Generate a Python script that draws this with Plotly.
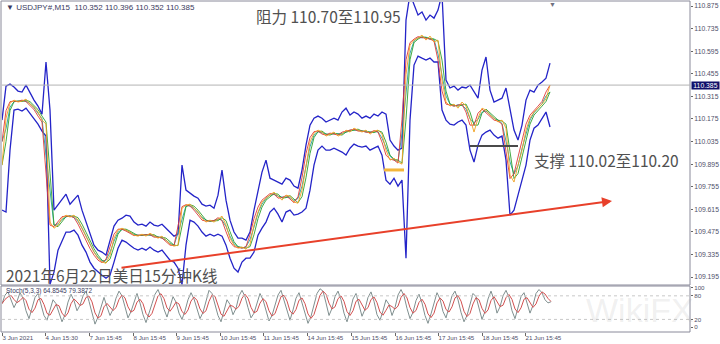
import numpy as np
import pandas as pd
import plotly.graph_objects as go

# ---------------- data ----------------
close = [109.889, 110.180, 110.273, 110.292, 110.280, 110.286, 110.298, 110.267, 110.249, 110.218,
         110.168, 110.143, 109.536, 109.498, 109.517, 109.560, 109.579, 109.567, 109.579, 109.548,
         109.498, 109.449, 109.393, 109.350, 109.312, 109.288, 109.281, 109.331, 109.436, 109.486,
         109.498, 109.486, 109.474, 109.455, 109.449, 109.461, 109.449, 109.467, 109.449, 109.436,
         109.449, 109.424, 109.399, 109.387, 109.393, 109.622, 109.641, 109.647, 109.622, 109.598,
         109.560, 109.536, 109.548, 109.536, 109.554, 109.573, 109.517, 109.436, 109.393, 109.374,
         109.381, 109.368, 109.399, 109.517, 109.598, 109.660, 109.684, 109.703, 109.722, 109.697,
         109.672, 109.703, 109.697, 109.660, 109.653, 109.734, 109.889, 110.032, 110.087, 110.106,
         110.094, 110.069, 110.081, 110.094, 110.069, 110.081, 110.106, 110.094, 110.118, 110.106,
         110.094, 110.106, 110.081, 110.100, 110.106, 110.081, 109.982, 109.920, 109.932, 109.908,
         109.895, 110.450, 110.633, 110.664, 110.676, 110.695, 110.664, 110.689, 110.652, 110.664,
         110.416, 110.280, 110.255, 110.267, 110.242, 110.280, 110.255, 110.180, 110.094, 110.180,
         110.242, 110.230, 110.199, 110.180, 110.156, 110.168, 110.118, 109.827, 109.784, 109.889,
         109.982, 110.106, 110.180, 110.218, 110.242, 110.267, 110.300, 110.385]

upper = [110.168, 110.379, 110.391, 110.373, 110.348, 110.342, 110.385, 110.335, 110.292, 110.255,
         110.205, 110.528, 110.230, 109.610, 109.641, 109.672, 109.709, 109.647, 109.678, 109.703,
         109.610, 109.536, 109.474, 109.393, 109.362, 109.350, 109.331, 109.424, 109.511, 109.548,
         109.560, 109.579, 109.573, 109.536, 109.517, 109.523, 109.511, 109.536, 109.517, 109.511,
         109.523, 109.498, 109.474, 109.449, 109.461, 109.889, 109.734, 109.715, 109.697, 109.684,
         109.647, 109.635, 109.641, 109.622, 109.703, 109.858, 109.672, 109.548, 109.474, 109.436,
         109.436, 109.424, 109.474, 109.610, 109.734, 109.846, 109.920, 109.808, 109.796, 109.784,
         109.771, 109.808, 109.796, 109.759, 109.746, 109.858, 110.013, 110.137, 110.180, 110.193,
         110.180, 110.156, 110.168, 110.180, 110.168, 110.218, 110.242, 110.199, 110.218, 110.205,
         110.180, 110.193, 110.180, 110.205, 110.193, 110.218, 110.205, 110.044, 110.007, 109.982,
         109.994, 110.788, 110.950, 110.881, 110.819, 110.838, 110.788, 110.819, 110.800, 110.850,
         110.950, 110.416, 110.367, 110.379, 110.354, 110.373, 110.367, 110.385, 110.342, 110.304,
         110.478, 110.559, 110.354, 110.280, 110.292, 110.304, 110.367, 110.230, 110.106, 110.044,
         110.137, 110.292, 110.354, 110.342, 110.385, 110.404, 110.428, 110.521]

lower = [109.610, 109.598, 109.982, 110.230, 110.236, 110.224, 110.242, 110.211, 110.180, 110.143,
         110.100, 110.069, 109.150, 109.226, 109.362, 109.424, 109.474, 109.474, 109.486, 109.455,
         109.393, 109.350, 109.288, 109.250, 109.226, 109.207, 109.188, 109.207, 109.288, 109.374,
         109.424, 109.412, 109.393, 109.374, 109.362, 109.374, 109.362, 109.381, 109.362, 109.350,
         109.362, 109.331, 109.300, 109.288, 109.250, 109.150, 109.393, 109.548, 109.536, 109.511,
         109.474, 109.449, 109.461, 109.449, 109.461, 109.449, 109.393, 109.312, 109.250, 109.226,
         109.288, 109.312, 109.312, 109.350, 109.455, 109.498, 109.536, 109.598, 109.622, 109.585,
         109.536, 109.598, 109.610, 109.579, 109.585, 109.598, 109.622, 109.734, 109.889, 109.982,
         110.007, 109.982, 109.982, 109.994, 109.982, 109.970, 109.951, 109.994, 110.019, 110.007,
         110.001, 110.007, 109.982, 109.994, 110.007, 109.951, 109.796, 109.771, 109.808, 109.759,
         109.796, 109.312, 110.168, 110.509, 110.565, 110.552, 110.540, 110.552, 110.528, 110.528,
         110.230, 110.168, 110.143, 110.137, 110.156, 110.168, 110.137, 109.982, 109.908, 110.013,
         110.075, 110.094, 110.106, 110.075, 110.056, 110.069, 109.920, 109.579, 109.610, 109.703,
         109.796, 109.889, 110.044, 110.118, 110.137, 110.180, 110.218, 110.125]

stoch_main = [60, 82, 90, 72, 50, 66, 88, 74, 42, 22, 48, 76, 86, 58, 30, 18, 44, 70, 60, 34,
              14, 32, 64, 84, 68, 42, 56, 80, 92, 66, 36, 8, 26, 54, 76, 52, 30, 46, 74, 92,
              80, 52, 24, 40, 66, 86, 62, 32, 12, 34, 60, 84, 96, 76, 46, 26, 50, 78, 64, 36,
              20, 42, 70, 88, 72, 46, 22, 38, 66, 94, 86, 56, 30, 14, 40, 70, 58, 32, 48, 80,
              94, 78, 50, 24, 36, 62, 86, 70, 40, 16, 30, 58, 82, 94, 68, 38, 18, 44, 74, 88,
              62, 30, 10, 28, 60, 86, 98, 92, 62, 30, 48, 78, 92, 70, 36, 14, 40, 72, 86, 56,
              28, 46, 76, 90, 66, 32, 18, 42, 70, 58, 30, 50, 82, 96, 80, 48, 22, 38, 68, 84,
              62, 30, 10, 34, 64, 88, 72, 40, 24, 52, 80, 92, 70, 38, 14, 30, 62, 86, 78, 46,
              20, 40, 72, 92, 70, 36, 52, 80, 94, 76, 42, 22, 48, 78, 88, 60, 36, 56, 86, 96,
              88, 70, 62, 65]

tick_pos = [0, 10.75, 21.75, 32.75, 43.5, 54.5, 65.25, 76.25, 87.25, 98.25, 109, 120, 130.75]
tick_text = ["3 Jun 2021", "4 Jun 15:30", "7 Jun 15:45", "8 Jun 15:45", "9 Jun 15:45",
             "10 Jun 15:45", "11 Jun 15:45", "14 Jun 15:45", "15 Jun 15:45", "16 Jun 15:45",
             "17 Jun 15:45", "18 Jun 15:45", "21 Jun 15:45"]
price_ticks = [110.875, 110.735, 110.595, 110.455, 110.315, 110.175, 110.035,
               109.895, 109.755, 109.615, 109.475, 109.335, 109.195]
stoch_ticks = [0, 20, 80, 100]
last_price = 110.385
trend_x = [29.5, 152.5]
trend_price = [109.252, 109.667]
support_x = [117, 129]
support_price = 110.008
mark_x = [95.5, 100.5]
mark_price = 109.859

header = "▼ USDJPY#,M15  110.352 110.396 110.352 110.385"
stoch_label = "Stoch(5,3,3) 64.8545 79.3872"
txt_resist = "阻力 110.70至110.95"
txt_support = "支撑 110.02至110.20"
txt_title = "2021年6月22日美日15分钟K线"

# ---------------- figure ----------------
x = np.arange(len(close))
s = pd.Series(close)
fig = go.Figure()

band_col = "#2424c8"
fig.add_trace(go.Scatter(x=x, y=upper, mode="lines", line=dict(color=band_col, width=1.3), hoverinfo="skip"))
fig.add_trace(go.Scatter(x=x, y=lower, mode="lines", line=dict(color=band_col, width=1.3), hoverinfo="skip"))

inner = [
    (s.rolling(3, center=True, min_periods=1).mean(), "#1f9f9f"),
    (s.rolling(2, min_periods=1).mean(), "#2ea02e"),
    (s.rolling(2, min_periods=1).mean().shift(-1).fillna(s), "#e03a3a"),
    (s, "#f0a020"),
]
for ser, col in inner:
    fig.add_trace(go.Scatter(x=x, y=ser, mode="lines", line=dict(color=col, width=0.9), hoverinfo="skip"))

xs = np.arange(len(stoch_main)) * 0.75
sm = pd.Series(stoch_main)
fig.add_trace(go.Scatter(x=xs, y=sm, mode="lines", line=dict(color="#7f8f8f", width=1),
                         yaxis="y2", hoverinfo="skip"))
fig.add_trace(go.Scatter(x=xs, y=sm.rolling(3, min_periods=1).mean(), mode="lines",
                         line=dict(color="#d25050", width=1), yaxis="y2", hoverinfo="skip"))

W, H = 720, 344
xd = [2 / W, 690 / W]
main_dom = [1 - 285 / H, 1 - 2 / H]
sub_dom = [1 - 332 / H, 1 - 286 / H]
ytick_font = dict(family="Liberation Sans, Arial", size=6.8, color="#50506a")
xtick_font = dict(family="Liberation Sans, Arial", size=6.2, color="#50506a")
stoch_font = dict(family="Liberation Sans, Arial", size=6.2, color="#50506a")

fig.update_layout(
    width=W, height=H, margin=dict(l=0, r=0, t=0, b=0, autoexpand=False),
    paper_bgcolor="white", plot_bgcolor="white", showlegend=False,
    xaxis=dict(domain=xd, range=[0, 172], anchor="y2", tickvals=tick_pos, ticktext=tick_text,
               ticklabelposition="outside right", tickangle=0, ticks="outside", ticklen=3,
               tickcolor="#666", tickfont=xtick_font, showgrid=False, zeroline=False,
               showline=False, automargin=False),
    yaxis=dict(domain=main_dom, range=[109.146, 110.900], side="right", anchor="x",
               tickvals=price_ticks, ticktext=[f"{v:.3f}" for v in price_ticks],
               ticks="outside", ticklen=2, tickcolor="#666", tickfont=ytick_font,
               ticklabelstandoff=0, showgrid=False, zeroline=False, automargin=False),
    yaxis2=dict(domain=sub_dom, range=[-12, 105], side="right", anchor="x",
                tickvals=stoch_ticks, ticktext=[str(v) for v in stoch_ticks],
                ticks="outside", ticklen=2, tickcolor="#666", tickfont=stoch_font,
                ticklabelstandoff=0, showgrid=False, zeroline=False, automargin=False),
)

shapes = []
shapes.append(dict(type="rect", xref="paper", yref="paper", x0=1 / W, x1=xd[1], y0=main_dom[0], y1=1 - 1 / H,
                   line=dict(color="#8a8a9a", width=1)))
shapes.append(dict(type="rect", xref="paper", yref="paper", x0=1 / W, x1=xd[1], y0=sub_dom[0], y1=sub_dom[1],
                   line=dict(color="#8a8a9a", width=1)))
shapes.append(dict(type="line", xref="x", yref="y", x0=0, x1=172, y0=last_price, y1=last_price,
                   line=dict(color="#b4b4b4", width=1)))
for lv in (20, 80):
    shapes.append(dict(type="line", xref="x", yref="y2", x0=0, x1=172, y0=lv, y1=lv,
                       line=dict(color="#c8c8c8", width=1, dash="dot")))
shapes.append(dict(type="line", xref="x", yref="y", x0=support_x[0], x1=support_x[1],
                   y0=support_price, y1=support_price, line=dict(color="#4a4a4a", width=2)))
shapes.append(dict(type="line", xref="x", yref="y", x0=mark_x[0], x1=mark_x[1],
                   y0=mark_price, y1=mark_price, line=dict(color="#f4b63a", width=3)))
fig.update_layout(shapes=shapes)

ann = []
ann.append(dict(x=trend_x[1], y=trend_price[1], ax=trend_x[0], ay=trend_price[0], xref="x", yref="y",
                axref="x", ayref="y", text="", showarrow=True, arrowhead=2, arrowsize=1,
                arrowwidth=2, arrowcolor="#e8402a"))
ann.append(dict(x=xd[1] + 1 / W, y=last_price, xref="paper", yref="y", text=f"{last_price:.3f}",
                showarrow=False, xanchor="left", yanchor="middle", bgcolor="#10106a", borderpad=0,
                width=27, font=dict(family="Liberation Sans, Arial", size=6.8, color="white")))
ann.append(dict(x=4 / W, y=1 - 7 / H, xref="paper", yref="paper", text=header, showarrow=False,
                xanchor="left", yanchor="middle",
                font=dict(family="Liberation Sans, Arial", size=8, color="#3a3a60")))
ann.append(dict(x=4 / W, y=1 - 291 / H, xref="paper", yref="paper", text=stoch_label, showarrow=False,
                xanchor="left", yanchor="middle",
                font=dict(family="Liberation Sans, Arial", size=6.5, color="#3a3a60")))
ann.append(dict(x=137.5, y=1 - 4 / H, xref="x", yref="paper", text="▼", showarrow=False,
                xanchor="center", yanchor="middle", font=dict(size=7, color="#707080")))
cjk = "Noto Sans CJK SC"
ann.append(dict(x=328 / W, y=1 - 16 / H, xref="paper", yref="paper", text=txt_resist, showarrow=False,
                xanchor="center", yanchor="middle", font=dict(family=cjk, size=15.5, color="#505050")))
ann.append(dict(x=606 / W, y=1 - 160 / H, xref="paper", yref="paper", text=txt_support, showarrow=False,
                xanchor="center", yanchor="middle", font=dict(family=cjk, size=15.5, color="#505050")))
ann.append(dict(x=4 / W, y=1 - 275 / H, xref="paper", yref="paper", text=txt_title, showarrow=False,
                xanchor="left", yanchor="middle", font=dict(family=cjk, size=15.5, color="#505050")))
ann.append(dict(x=640 / W, y=1 - 310 / H, xref="paper", yref="paper", text="WikiFX", showarrow=False,
                xanchor="center", yanchor="middle",
                font=dict(family="Liberation Sans, Arial", size=34, color="rgba(170,170,170,0.18)")))
fig.update_layout(annotations=ann)

fig.write_html("out.html")
